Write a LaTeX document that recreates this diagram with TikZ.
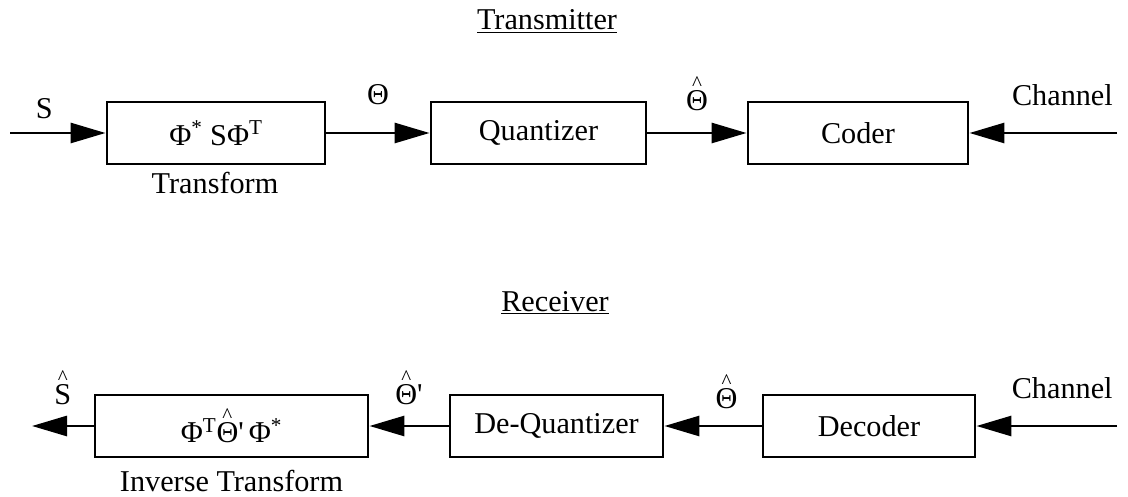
\documentclass[tikz,border=0pt]{standalone}
\usepackage{fontspec}
\setmainfont{Liberation Serif}
\usetikzlibrary{arrows.meta,positioning}
\newcommand{\hatsym}[1]{\leavevmode\vbox{\offinterlineskip\halign{\hfil##\hfil\cr
  {\fontsize{15}{15}\selectfont\textasciicircum}\cr\noalign{\kern0pt}#1\cr}}}

\begin{document}
\begin{tikzpicture}[x=0.025cm, y=-0.025cm, font=\fontsize{21.5}{26}\selectfont,
    blockbox/.style={draw, line width=2pt, minimum height=1.55cm, inner sep=0pt},
    sig/.style={line width=2pt, -{Triangle[length=0.875cm, width=0.5cm]}},
    lbl/.style={inner sep=0pt}]
  \useasboundingbox (0,0) rectangle (1128,497);
  % transmitter
  \node[anchor=base] (txtitle) at (547,30) {\underline{Transmitter}};
  \node[blockbox, minimum width=5.45cm] (transform) at (216,133) {Φ\textsuperscript{*} SΦ\textsuperscript{T}};
  \node[blockbox, minimum width=5.375cm] (quant) at (538.5,133) {Quantizer};
  \node[blockbox, minimum width=5.5cm] (coder) at (858,133) {Coder};
  \node[anchor=base] (translbl) at (215,194) {Transform};
  \coordinate (txin) at (10,133);
  \coordinate (txch) at (1117,133);
  \draw[sig] (txin) -- node[lbl, above=9pt, pos=0.36] (slbl) {S} (transform);
  \draw[sig] (transform) -- node[lbl, above=19pt] (thlbl) {Θ} (quant);
  \draw[sig] (quant) -- node[lbl, above=15pt] (thqlbl) {\hatsym{Θ}} (coder);
  \draw[sig] (txch) -- node[lbl, above=18pt, pos=0.37] (txchlbl) {Channel} (coder);
  % receiver
  \node[anchor=base] (rxtitle) at (555,311) {\underline{Receiver}};
  \node[blockbox, minimum width=6.825cm] (invtrans) at (231.5,426) {Φ\textsuperscript{T}\hatsym{Θ}\textquotesingle\,Φ\textsuperscript{*}};
  \node[blockbox, minimum width=5.325cm] (dequant) at (556.5,426) {De-Quantizer};
  \node[blockbox, minimum width=5.3cm] (decoder) at (869,426) {Decoder};
  \node[anchor=base] (invlbl) at (231.5,491) {Inverse Transform};
  \coordinate (rxout) at (32,426);
  \coordinate (rxch) at (1117,426);
  \draw[sig] (rxch) -- node[lbl, above=18pt, pos=0.39] (rxchlbl) {Channel} (decoder);
  \draw[sig] (decoder) -- node[lbl, above=11pt, pos=0.36] (thdlbl) {\hatsym{Θ}} (dequant);
  \draw[sig] (dequant) -- node[lbl, above=14pt] (thplbl) {\hatsym{Θ}\textquotesingle} (invtrans);
  \draw[sig] (invtrans) -- node[lbl, above=14pt] (shatlbl) {\hatsym{S}} (rxout);
\end{tikzpicture}
\end{document}
